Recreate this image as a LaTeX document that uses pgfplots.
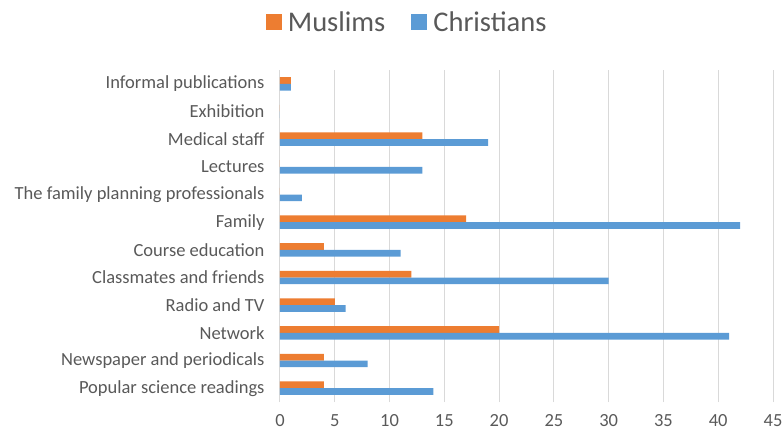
\documentclass[border=0pt]{standalone}
\usepackage{fontspec}
\setmainfont{Carlito}
\usepackage{pgfplots}
\pgfplotsset{compat=1.18}
\definecolor{mus}{HTML}{ED7D31}
\definecolor{chr}{HTML}{5B9BD5}
\definecolor{txt}{HTML}{595959}
\definecolor{grd}{HTML}{D9D9D9}
\begin{document}
\begin{tikzpicture}[x=1pt,y=1pt]
\useasboundingbox (0,0) rectangle (782,437);
\begin{axis}[
  at={(280pt,35pt)}, anchor=south west,
  scale only axis, width=493pt, height=332pt,
  xmin=0, xmax=45, ymin=-0.5, ymax=11.5,
  xtick={0,5,...,45},
  ytick={0,...,11},
  yticklabels={Popular science readings,Newspaper and periodicals,Network,Radio and TV,Classmates and friends,Course education,Family,The family planning professionals,Lectures,Medical staff,Exhibition,Informal publications},
  xmajorgrids, major grid style={grd, line width=1pt},
  axis line style={draw=none},
  major tick length=0pt,
  tick label style={font=\fontsize{18.5}{22}\selectfont, text=txt},
  yticklabel style={xshift=-12pt},
  xticklabel style={yshift=-9pt},
  /pgf/number format/assume math mode=true,
  xbar, bar width=6.7pt,
  legend style={at={(0.258,1.145)}, anchor=center, draw=none, fill=none,
    legend columns=2, font=\fontsize{28.5}{32}\selectfont, text=txt,
    /tikz/every odd column/.append style={column sep=4pt},
    /tikz/every even column/.append style={column sep=24pt}},
]
\addplot[fill=mus, draw=none, bar shift=3.35pt,
  legend image code/.code={\fill[mus] (0pt,-8pt) rectangle (16pt,8pt);}]
  coordinates {(4,0) (4,1) (20,2) (5,3) (12,4) (4,5) (17,6) (0,7) (0,8) (13,9) (0,10) (1,11)};
\addlegendentry{Muslims}
\addplot[fill=chr, draw=none, bar shift=-3.35pt,
  legend image code/.code={\fill[chr] (0pt,-8pt) rectangle (16pt,8pt);}]
  coordinates {(14,0) (8,1) (41,2) (6,3) (30,4) (11,5) (42,6) (2,7) (13,8) (19,9) (0,10) (1,11)};
\addlegendentry{Christians}
\end{axis}
\end{tikzpicture}
\end{document}
